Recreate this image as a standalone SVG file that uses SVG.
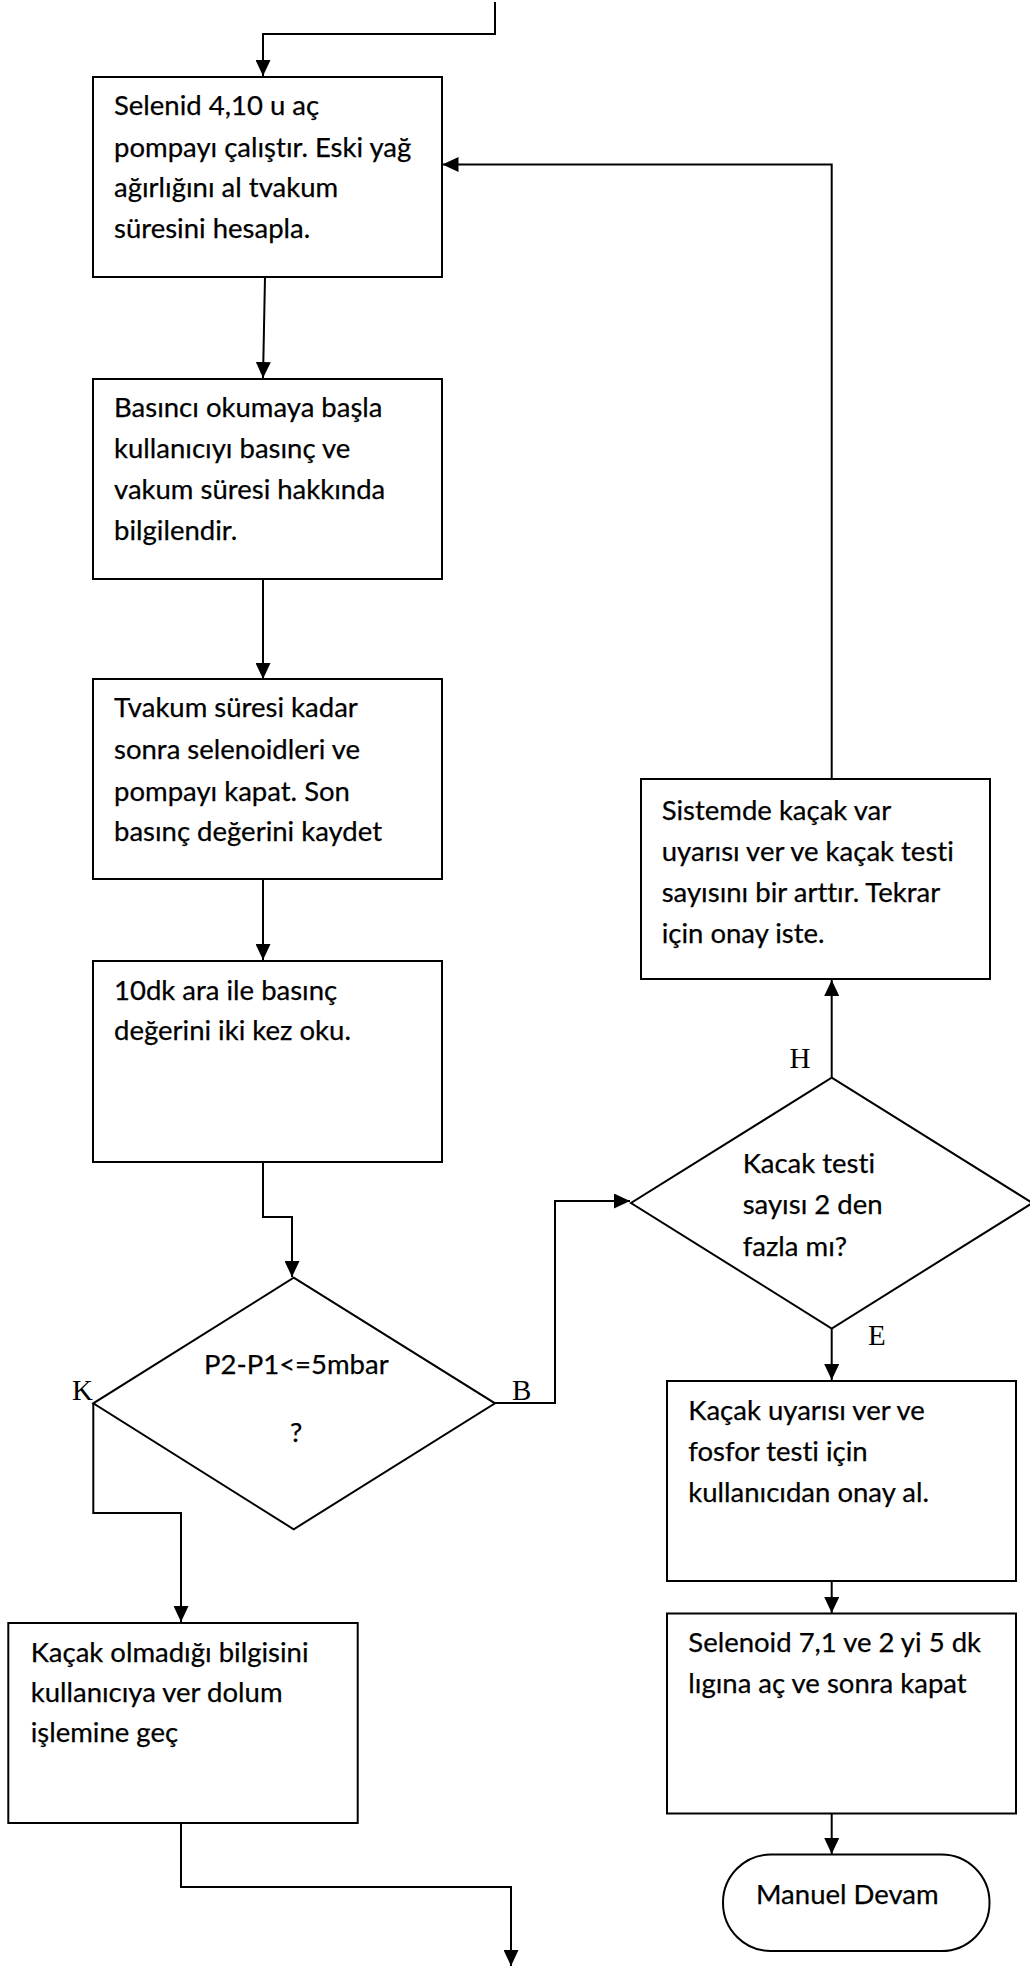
<svg xmlns="http://www.w3.org/2000/svg" width="1030" height="1966" viewBox="0 0 1030 1966">
  <style>
    .box { fill: #ffffff; stroke: #000000; stroke-width: 2; }
    .t { font-family: Lato, "Open Sans", sans-serif; font-size: 27.5px; fill: #000000; stroke: #000000; stroke-width: 0.25; font-variant-ligatures: none; font-feature-settings: "liga" 0; }
    .lbl { font-family: "Liberation Serif", serif; font-size: 29px; fill: #000000; }
    .wire { fill: none; stroke: #000000; stroke-width: 2; }
  </style>
  <defs>
    <marker id="arrow" markerUnits="userSpaceOnUse" markerWidth="16" markerHeight="15" refX="16" refY="7.5" orient="auto">
      <path d="M0,0 L16,7.5 L0,15 z" fill="#000000"/>
    </marker>
  </defs>

  <rect width="1030" height="1966" fill="#ffffff"/>

  <!-- connectors -->
  <g id="connectors">
    <path class="wire" d="M495,2 V34 H263 V76" marker-end="url(#arrow)"/>
    <path class="wire" d="M265,277 L263,378" marker-end="url(#arrow)"/>
    <path class="wire" d="M263,579 V679" marker-end="url(#arrow)"/>
    <path class="wire" d="M263,879 V960" marker-end="url(#arrow)"/>
    <path class="wire" d="M263,1162 V1217 H292 V1277" marker-end="url(#arrow)"/>
    <path class="wire" d="M93.3,1403 V1513 H181 V1622" marker-end="url(#arrow)"/>
    <path class="wire" d="M495,1403 H555 V1201 H630" marker-end="url(#arrow)"/>
    <path class="wire" d="M831.7,1077.7 V980" marker-end="url(#arrow)"/>
    <path class="wire" d="M831.7,779 V164.5 H442.5" marker-end="url(#arrow)"/>
    <path class="wire" d="M831.7,1328.5 V1380" marker-end="url(#arrow)"/>
    <path class="wire" d="M831.7,1581 V1613" marker-end="url(#arrow)"/>
    <path class="wire" d="M831.7,1813 V1854" marker-end="url(#arrow)"/>
    <path class="wire" d="M181,1823 V1887 H511 V1966" marker-end="url(#arrow)"/>
  </g>

  <!-- process steps -->
  <g id="step-open-valves">
    <rect class="box" x="93" y="77" width="349" height="200"/>
    <text class="t" x="114" y="115">Selenid 4,10 u aç</text>
    <text class="t" x="114" y="157">pompayı çalıştır. Eski yağ</text>
    <text class="t" x="114" y="197">ağırlığını al tvakum</text>
    <text class="t" x="114" y="238">süresini hesapla.</text>
  </g>

  <g id="step-read-pressure">
    <rect class="box" x="93" y="379" width="349" height="200"/>
    <text class="t" x="114" y="416.7">Basıncı okumaya başla</text>
    <text class="t" x="114" y="458.3">kullanıcıyı basınç ve</text>
    <text class="t" x="114" y="499.3">vakum süresi hakkında</text>
    <text class="t" x="114" y="540">bilgilendir.</text>
  </g>

  <g id="step-close">
    <rect class="box" x="93" y="679" width="349" height="200"/>
    <text class="t" x="114" y="716.5">Tvakum süresi kadar</text>
    <text class="t" x="114" y="759">sonra selenoidleri ve</text>
    <text class="t" x="114" y="801">pompayı kapat. Son</text>
    <text class="t" x="114" y="840.5">basınç değerini kaydet</text>
  </g>

  <g id="step-read-twice">
    <rect class="box" x="93" y="961" width="349" height="201"/>
    <text class="t" x="114" y="999.6">10dk ara ile basınç</text>
    <text class="t" x="114" y="1040">değerini iki kez oku.</text>
  </g>

  <!-- decision: pressure difference -->
  <g id="decision-pressure">
    <polygon class="box" points="293.7,1277.7 495,1403.3 293.7,1529.3 93.3,1403.3"/>
    <text class="t" x="204" y="1374">P2-P1&lt;=5mbar</text>
    <text class="t" x="290" y="1442">?</text>
    <text class="lbl" x="72" y="1400">K</text>
    <text class="lbl" x="512" y="1400">B</text>
  </g>

  <g id="step-no-leak">
    <rect class="box" x="8.3" y="1623" width="349.4" height="200"/>
    <text class="t" x="30.7" y="1661.7">Kaçak olmadığı bilgisini</text>
    <text class="t" x="30.7" y="1701.7">kullanıcıya ver dolum</text>
    <text class="t" x="30.7" y="1741.7">işlemine geç</text>
  </g>

  <!-- decision: leak test count -->
  <g id="decision-count">
    <polygon class="box" points="831.7,1077.7 1032.4,1203 831.7,1328.5 631,1203"/>
    <text class="t" x="742.7" y="1172.7">Kacak testi</text>
    <text class="t" x="742.7" y="1214">sayısı 2 den</text>
    <text class="t" x="742.7" y="1256">fazla mı?</text>
    <text class="lbl" x="789.5" y="1068.3">H</text>
    <text class="lbl" x="868" y="1345">E</text>
  </g>

  <g id="step-leak-retry">
    <rect class="box" x="641" y="779" width="349" height="200"/>
    <text class="t" x="661.7" y="819.5">Sistemde kaçak var</text>
    <text class="t" x="661.7" y="861">uyarısı ver ve kaçak testi</text>
    <text class="t" x="661.7" y="902">sayısını bir arttır. Tekrar</text>
    <text class="t" x="661.7" y="942.6">için onay iste.</text>
  </g>

  <g id="step-leak-warning">
    <rect class="box" x="667" y="1381" width="349" height="200"/>
    <text class="t" x="688.3" y="1419.8">Kaçak uyarısı ver ve</text>
    <text class="t" x="688.3" y="1460.6">fosfor testi için</text>
    <text class="t" x="688.3" y="1501.8">kullanıcıdan onay al.</text>
  </g>

  <g id="step-phosphor">
    <rect class="box" x="667" y="1613.5" width="349" height="200"/>
    <text class="t" x="688.3" y="1651.7">Selenoid 7,1 ve 2 yi 5 dk</text>
    <text class="t" x="688.3" y="1693">lıgına aç ve sonra kapat</text>
  </g>

  <g id="end-manual">
    <rect class="box" x="723" y="1854.5" width="266.5" height="96.5" rx="48" ry="48"/>
    <text class="t" x="756" y="1904">Manuel Devam</text>
  </g>
</svg>
